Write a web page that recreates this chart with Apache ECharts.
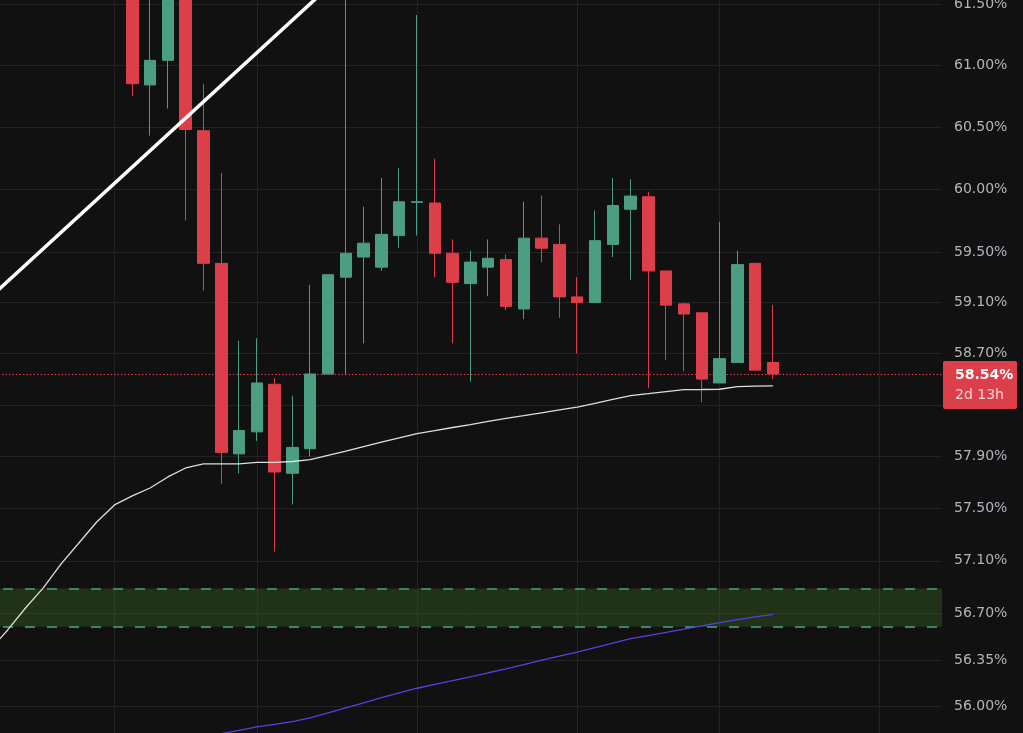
<!DOCTYPE html>
<html>
<head>
<meta charset="utf-8">
<title>Dominance</title>
<script src="https://cdn.jsdelivr.net/npm/echarts@6/dist/echarts.min.js"></script>
<style>
  html, body { margin: 0; padding: 0; background: #111111; }
  #chart { width: 1023px; height: 733px; }
</style>
</head>
<body>
<div id="chart"></div>
<script>
// 54 periods on screen; candles start at period 8, the last 9 periods are empty
const categories = Array.from({ length: 54 }, (_, i) => String(i));
const candleStart = 8;

const opens = [61.80, 60.84, 61.04, 61.85, 60.47, 59.41, 57.92, 58.09, 58.46, 57.77,
  57.96, 58.54, 59.30, 59.46, 59.38, 59.63, 59.895, 59.89, 59.49, 59.25,
  59.38, 59.44, 59.05, 59.61, 59.56, 59.145, 59.10, 59.56, 59.84, 59.94,
  59.35, 59.09, 59.02, 58.47, 58.63, 59.41, 58.63];
const closes = [60.85, 61.04, 61.90, 60.48, 59.41, 57.93, 58.10, 58.47, 57.78, 57.97,
  58.54, 59.32, 59.49, 59.57, 59.64, 59.90, 59.90, 59.49, 59.26, 59.42,
  59.45, 59.07, 59.61, 59.53, 59.145, 59.10, 59.59, 59.87, 59.945, 59.35,
  59.08, 59.01, 58.50, 58.66, 59.40, 58.57, 58.54];
const lows = [60.75, 60.43, 60.65, 59.75, 59.195, 57.69, 57.77, 58.02, 57.17, 57.53,
  57.90, 58.54, 58.54, 58.78, 59.35, 59.53, 59.63, 59.30, 58.78, 58.48,
  59.15, 59.04, 58.97, 59.42, 58.98, 58.70, 59.10, 59.46, 59.28, 58.43,
  58.65, 58.56, 58.32, 58.47, 58.63, 58.57, 58.50];
const highs = [62.00, 61.70, 62.10, 62.00, 60.85, 60.13, 58.80, 58.82, 58.51, 58.37,
  59.24, 59.32, 61.70, 59.86, 60.09, 60.17, 61.41, 60.245, 59.60, 59.51,
  59.60, 59.48, 59.90, 59.95, 59.72, 59.30, 59.83, 60.09, 60.08, 59.98,
  59.35, 59.10, 59.02, 59.74, 59.51, 59.41, 59.08];

// white moving average, from period 0
const maFast = [56.425, 56.576, 56.742, 56.894, 57.076, 57.236, 57.396, 57.527, 57.596, 57.657,
  57.742, 57.811, 57.842, 57.842, 57.842, 57.854, 57.854, 57.861, 57.875, 57.909,
  57.942, 57.976, 58.010, 58.043, 58.077, 58.100, 58.124, 58.147, 58.171, 58.195,
  58.216, 58.238, 58.260, 58.282, 58.312, 58.342, 58.372, 58.387, 58.403, 58.418,
  58.419, 58.421, 58.441, 58.446, 58.447];
const maFastStart = 0;

// purple moving average, from period 11
const maSlow = [55.748, 55.774, 55.799, 55.824, 55.849, 55.869, 55.889, 55.916, 55.954, 55.992,
  56.029, 56.067, 56.103, 56.138, 56.167, 56.195, 56.224, 56.254, 56.283, 56.315,
  56.348, 56.379, 56.409, 56.443, 56.477, 56.510, 56.534, 56.558, 56.582, 56.606,
  56.631, 56.654, 56.674, 56.693];
const maSlowStart = 11;

// drawn trend line: two anchor points
const trendCats = ["0", "19"];
const trendValues = [59.139, 61.636];

// support zone
const zoneLow = 56.60;
const zoneHigh = 56.89;

const lastPrice = 58.54;
const countdown = "2d 13h";

const tickValues = [56.00, 56.35, 56.70, 57.10, 57.50, 57.90, 58.30, 58.70,
  59.10, 59.50, 60.00, 60.50, 61.00, 61.50];
const timeLineCats = ["7", "15", "24", "33", "41", "50"];

const UP = "#4c9e82";
const DOWN = "#dc3e4a";
const GRID = "#232323";
const FONT = "DejaVu Sans";

function pad(values, start) {
  return categories.map((c, i) => {
    const k = i - start;
    return k >= 0 && k < values.length ? values[k] : "-";
  });
}

const candleData = categories.map((c, i) => {
  const k = i - candleStart;
  if (k < 0 || k >= opens.length) return "-";
  return [opens[k], closes[k], lows[k], highs[k]];
});

const trendData = categories.map((c) => {
  const k = trendCats.indexOf(c);
  return k >= 0 ? trendValues[k] : null;
});

const chart = echarts.init(document.getElementById("chart"));

chart.setOption({
  backgroundColor: "#111111",
  animation: false,
  grid: { left: -19, right: 81, top: 0, bottom: 0, outerBoundsMode: "none" },
  xAxis: {
    type: "category",
    data: categories,
    boundaryGap: true,
    axisLine: { show: false },
    axisTick: { show: false },
    axisLabel: { show: false },
    splitLine: { show: false },
  },
  yAxis: {
    type: "log",
    logBase: 10,
    position: "right",
    min: 55.804,
    max: 61.533,
    axisLine: { show: false },
    axisTick: { show: false, customValues: tickValues },
    axisLabel: {
      customValues: tickValues,
      formatter: (v) => Number(v).toFixed(2) + "%",
      color: "#b2b5be",
      fontSize: 14,
      fontFamily: FONT,
      margin: 12,
    },
    splitLine: { show: true, lineStyle: { color: GRID, width: 1 } },
  },
  series: [
    {
      // vertical time grid lines
      type: "line",
      data: pad([], 0),
      z: 0,
      silent: true,
      markLine: {
        z: 0,
        silent: true,
        symbol: ["none", "none"],
        label: { show: false },
        lineStyle: { color: GRID, type: "solid", width: 1 },
        data: timeLineCats.map((c) => ({ xAxis: c })),
      },
    },
    {
      // support zone
      type: "line",
      data: pad([], 0),
      z: 1,
      silent: true,
      markArea: {
        z: 1,
        silent: true,
        itemStyle: { color: "rgba(60,110,40,0.36)" },
        data: [[{ yAxis: zoneLow }, { yAxis: zoneHigh }]],
      },
      markLine: {
        z: 1,
        silent: true,
        symbol: ["none", "none"],
        label: { show: false },
        lineStyle: { color: "#40806a", type: [10, 12], width: 2 },
        data: [{ yAxis: zoneLow }, { yAxis: zoneHigh }],
      },
    },
    {
      type: "candlestick",
      data: candleData,
      barWidth: 12,
      z: 2,
      itemStyle: {
        color: UP,
        color0: DOWN,
        borderColor: UP,
        borderColor0: DOWN,
        borderWidth: 1,
      },
      markLine: {
        z: 2,
        silent: true,
        symbol: ["none", "none"],
        label: { show: false },
        lineStyle: { color: DOWN, type: [1.5, 2], width: 1.2 },
        data: [{ yAxis: lastPrice }],
      },
    },
    {
      type: "line",
      data: pad(maFast, maFastStart),
      symbol: "none",
      z: 3,
      lineStyle: { color: "#dedede", width: 1.3 },
    },
    {
      type: "line",
      data: pad(maSlow, maSlowStart),
      symbol: "none",
      z: 3,
      lineStyle: { color: "#5a3ee6", width: 1.3 },
    },
    {
      type: "line",
      data: trendData,
      connectNulls: true,
      symbol: "none",
      z: 4,
      lineStyle: { color: "#ffffff", width: 3.5 },
    },
  ],
});

function drawPriceTag() {
  const y = chart.convertToPixel({ yAxisIndex: 0 }, lastPrice);
  const x = chart.getWidth() - 80;
  chart.setOption({
    graphic: [
      {
        type: "rect",
        z: 100,
        zlevel: 1,
        shape: { x: x, y: y - 13, width: 74, height: 48, r: 2 },
        style: { fill: DOWN },
      },
      {
        type: "text",
        z: 101,
        zlevel: 1,
        style: {
          x: x + 12,
          y: y + 1,
          text: lastPrice.toFixed(2) + "%",
          fill: "#ffffff",
          font: "bold 14px '" + FONT + "'",
          verticalAlign: "middle",
        },
      },
      {
        type: "text",
        z: 101,
        zlevel: 1,
        style: {
          x: x + 12,
          y: y + 21,
          text: countdown,
          fill: "#f4d4d7",
          font: "14px '" + FONT + "'",
          verticalAlign: "middle",
        },
      },
    ],
  });
}

drawPriceTag();

window.addEventListener("resize", () => {
  chart.resize();
  drawPriceTag();
});
</script>
</body>
</html>
